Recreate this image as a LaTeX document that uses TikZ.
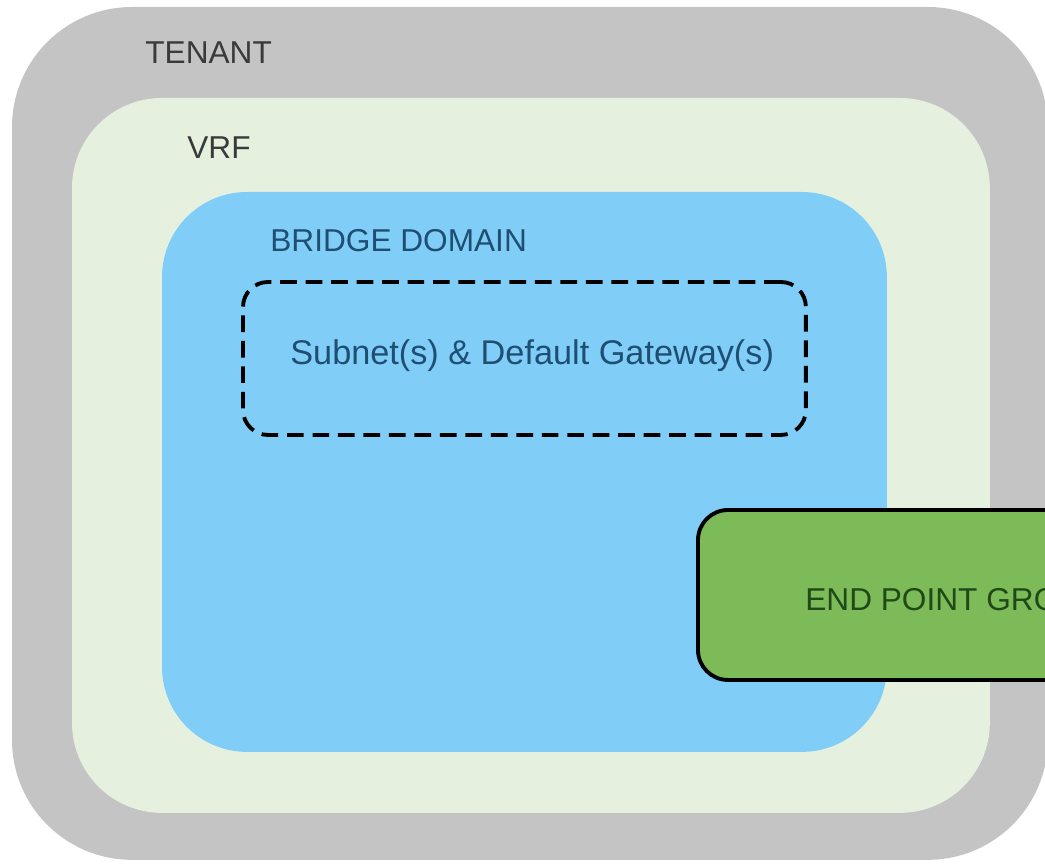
\documentclass[tikz,border=0pt]{standalone}
\usepackage{fontspec}
\setmainfont{Liberation Sans}
\usepackage{tikz}

\definecolor{tenantgrey}{HTML}{C4C4C4}
\definecolor{vrfgreen}{HTML}{E6F0DF}
\definecolor{bdblue}{HTML}{80CEF8}
\definecolor{epggreen}{HTML}{7DBA58}
\definecolor{lblgrey}{HTML}{3A3A3A}
\definecolor{lblblue}{HTML}{1E4F72}
\definecolor{lblgreen}{HTML}{1E4A17}

\tikzset{
    box/.style={rectangle,anchor=north west,inner sep=0pt,outer sep=0pt},
    tenantbox/.style={box,fill=tenantgrey,rounded corners=2.4cm},
    vrfbox/.style={box,fill=vrfgreen,rounded corners=1.8cm},
    bdbox/.style={box,fill=bdblue,rounded corners=1.7cm},
    subnetbox/.style={box,draw=black,line width=2.2pt,dash pattern=on 9.5pt off 5pt,rounded corners=0.5cm},
    epgbox/.style={box,fill=epggreen,draw=black,line width=2.2pt,rounded corners=0.6cm},
    lbl/.style={anchor=west,inner sep=0pt,font=\fontsize{18}{20}\selectfont}
}

\begin{document}
\begin{tikzpicture}[x=0.02cm,y=-0.02cm]
        \useasboundingbox (0,0) rectangle (1045,864);
        \clip (0,0) rectangle (1045,864);
        % nested containers
        \node[tenantbox,minimum width=20.72cm,minimum height=17.06cm] (tenant) at (12,7) {};
        \node[vrfbox,minimum width=18.36cm,minimum height=14.3cm] (vrf) at (72,98) {};
        \node[bdbox,minimum width=14.5cm,minimum height=11.2cm] (bd) at (162,192) {};
        \node[subnetbox,minimum width=11.26cm,minimum height=3.06cm] (subnet) at (243,282) {};
        \node[epgbox,minimum width=8.04cm,minimum height=3.4cm] (epg) at (698,510) {};
        % labels
        \node[lbl,text=lblgrey] (tenantlbl) at (145,53) {TENANT};
        \node[lbl,text=lblgrey] (vrflbl) at (187,148) {VRF};
        \node[lbl,text=lblblue] (bdlbl) at (270,241) {BRIDGE DOMAIN};
        \node[lbl,text=lblblue,font=\fontsize{19.5}{22}\selectfont] (subnetlbl) at (290,356) {Subnet(s) \& Default Gateway(s)};
        \node[lbl,text=lblgreen] (epglbl) at (805,600) {END POINT GROUP};
    \end{tikzpicture}
\end{document}
